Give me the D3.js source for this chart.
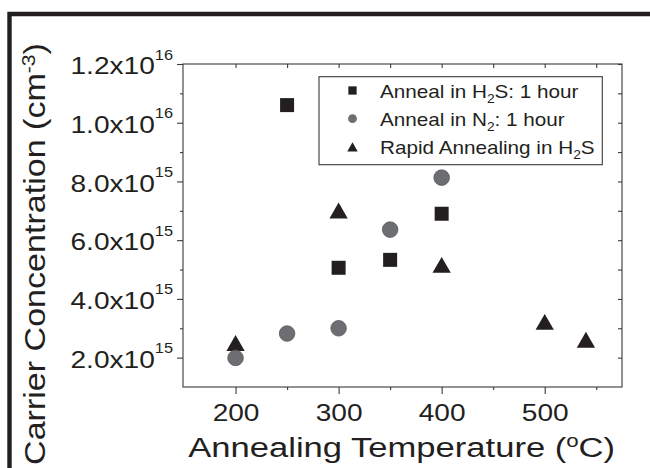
<!DOCTYPE html>
<html>
<head>
<meta charset="utf-8">
<script src="https://cdn.jsdelivr.net/npm/d3@7"></script>
<style>
  body { margin: 0; background: #fff; }
  text { font-family: Arial, "Liberation Sans", sans-serif; fill: #231f20; }
</style>
</head>
<body>
<svg id="chart" width="650" height="468"></svg>
<script>
// data (temperature in C, carrier concentration in cm^-3)
const h2sTemp = [250, 300, 350, 400];
const h2sConc = [1.06e16, 5.06e15, 5.33e15, 6.90e15];

const n2Temp = [200, 250, 300, 350, 400];
const n2Conc = [1.99e15, 2.82e15, 3.0e15, 6.36e15, 8.13e15];

const rapidTemp = [200, 300, 400, 500, 540];
const rapidConc = [2.5e15, 7.01e15, 5.16e15, 3.22e15, 2.61e15];

const xMajor = [200, 300, 400, 500];
const xMinor = [250, 350, 450, 550];
const yMajor = [2e15, 4e15, 6e15, 8e15, 1e16, 1.2e16];
const yMinor = [3e15, 5e15, 7e15, 9e15, 1.1e16];

const legendLabels = [
  ["Anneal in H", "2", "S: 1 hour"],
  ["Anneal in N", "2", ": 1 hour"],
  ["Rapid Annealing in H", "2", "S"]
];

var svg = d3.select("#chart");
var ink = "#231f20", axisCol = "#3a3a3a";

// plot box edges (window.top is reserved, so keep own names)
var pLeft = 183, pRight = 622, pTop = 64, pBottom = 387;

var x = d3.scaleLinear().domain([149, 575]).range([pLeft, pRight]);
var y = d3.scaleLinear().domain([1e15, 1.2e16]).range([pBottom, pTop]);

// frame around the figure (only top and left edges are visible)
svg.append("path")
  .attr("d", "M9.5,468 V14 H650")
  .attr("fill", "none")
  .attr("stroke", ink)
  .attr("stroke-width", 4.4);

// plot box
svg.append("rect")
  .attr("x", pLeft).attr("y", pTop)
  .attr("width", pRight - pLeft).attr("height", pBottom - pTop)
  .attr("fill", "none").attr("stroke", axisCol).attr("stroke-width", 1.1);

function styleAxis(g) {
  g.attr("color", axisCol).attr("font-family", null).attr("font-size", null);
  g.select(".domain").remove();
  g.selectAll(".tick line").attr("stroke-width", 1.1);
}

// bottom axis
var xAxisG = svg.append("g")
  .attr("transform", `translate(0,${pBottom})`)
  .call(d3.axisBottom(x).tickValues(xMajor).tickSize(7).tickFormat(d3.format("d")))
  .call(styleAxis);
xAxisG.selectAll("text")
  .attr("y", null).attr("dy", null)
  .attr("font-size", 24)
  .style("fill", ink)
  .attr("transform", "translate(0,33.7) scale(1.17,1)");

svg.append("g")
  .attr("transform", `translate(0,${pBottom})`)
  .call(d3.axisBottom(x).tickValues(xMinor).tickSize(3).tickFormat(""))
  .call(styleAxis);

// top axis, inward ticks
svg.append("g")
  .attr("transform", `translate(0,${pTop})`)
  .call(d3.axisTop(x).tickValues(xMajor.concat(xMinor)).tickSize(-4).tickFormat(""))
  .call(styleAxis);

// right axis, inward ticks
svg.append("g")
  .attr("transform", `translate(${pRight},0)`)
  .call(d3.axisRight(y).tickValues(yMajor.concat(yMinor)).tickSize(-4).tickFormat(""))
  .call(styleAxis);

// left axis
var yAxisG = svg.append("g")
  .attr("transform", `translate(${pLeft},0)`)
  .call(d3.axisLeft(y).tickValues(yMajor).tickSize(6).tickFormat(""))
  .call(styleAxis);

svg.append("g")
  .attr("transform", `translate(${pLeft},0)`)
  .call(d3.axisLeft(y).tickValues(yMinor).tickSize(3).tickFormat(""))
  .call(styleAxis);

// y tick labels like 1.2x10^16
yAxisG.selectAll(".tick").each(function (d) {
  var exp = Math.floor(Math.log10(d) + 1e-9);
  var mant = (d / Math.pow(10, exp)).toFixed(1);
  var t = d3.select(this).select("text");
  t.text(null)
    .attr("x", null).attr("dy", null)
    .attr("text-anchor", "end")
    .attr("font-size", 24)
    .style("fill", ink)
    .attr("transform", "translate(-10,9.7) scale(1.17,1)");
  t.append("tspan").text(mant + "x10");
  t.append("tspan").attr("font-size", 14).attr("dy", -14.7).text(exp);
});

// axis titles
var xt = svg.append("text").attr("font-size", 28).attr("text-anchor", "middle");
xt.append("tspan").text("Annealing Temperature (");
xt.append("tspan").attr("font-size", 18).attr("dy", -10).text("o");
xt.append("tspan").attr("dy", 10).text("C)");
var xw = xt.node().getBBox().width;
xt.attr("transform", `translate(401.7,457) scale(${427 / xw},1)`);

var yt = svg.append("text").attr("font-size", 29).attr("text-anchor", "middle");
yt.append("tspan").text("Carrier Concentration (cm");
yt.append("tspan").attr("font-size", 18).attr("dy", -10).text("-3");
yt.append("tspan").attr("dy", 10).text(")");
var yw = yt.node().getBBox().width;
yt.attr("transform", `translate(45,254) rotate(-90) scale(${422 / yw},1)`);

// markers
var triSide = 18.3, triH = triSide * Math.sqrt(3) / 2;
var triangle = d3.symbol().type(d3.symbolTriangle).size(triSide * triSide * Math.sqrt(3) / 4);
var square = d3.symbol().type(d3.symbolSquare).size(14 * 14);
var circle = d3.symbol().type(d3.symbolCircle).size(Math.PI * 7.8 * 7.8);

var marks = svg.append("g");

marks.selectAll(".tri")
  .data(d3.zip(rapidTemp, rapidConc))
  .enter().append("path")
  .attr("class", "tri")
  .attr("d", triangle)
  // shift so the bounding box (not the centroid) sits on the value
  .attr("transform", d => `translate(${x(d[0])},${y(d[1]) + triH / 6})`)
  .attr("fill", ink);

marks.selectAll(".sq")
  .data(d3.zip(h2sTemp, h2sConc))
  .enter().append("path")
  .attr("class", "sq")
  .attr("d", square)
  .attr("transform", d => `translate(${x(d[0])},${y(d[1])})`)
  .attr("fill", ink);

marks.selectAll(".ci")
  .data(d3.zip(n2Temp, n2Conc))
  .enter().append("path")
  .attr("class", "ci")
  .attr("d", circle)
  .attr("transform", d => `translate(${x(d[0])},${y(d[1])})`)
  .attr("fill", "#6d6e71")
  .attr("stroke", "#5a5a5c")
  .attr("stroke-width", 0.8);

// legend
var leg = svg.append("g");
leg.append("rect")
  .attr("x", 319).attr("y", 76.7)
  .attr("width", 283.3).attr("height", 88)
  .attr("fill", "#fff").attr("stroke", axisCol).attr("stroke-width", 1.1);

var legSymbols = [
  { sym: d3.symbol().type(d3.symbolSquare).size(8.3 * 8.3), fill: ink, dy: 0 },
  { sym: d3.symbol().type(d3.symbolCircle).size(Math.PI * 4.4 * 4.4), fill: "#6d6e71", dy: 0 },
  { sym: d3.symbol().type(d3.symbolTriangle).size(10.5 * 10.5 * Math.sqrt(3) / 4), fill: ink, dy: 10.5 * Math.sqrt(3) / 12 }
];

legendLabels.forEach(function (lab, i) {
  var cy = 90.5 + i * 28.2;
  leg.append("path")
    .attr("d", legSymbols[i].sym)
    .attr("transform", `translate(352.5,${cy + legSymbols[i].dy})`)
    .attr("fill", legSymbols[i].fill);
  var t = leg.append("text")
    .attr("font-size", 18)
    .attr("transform", `translate(380,${cy + 7.5}) scale(1.15,1)`);
  t.append("tspan").text(lab[0]);
  t.append("tspan").attr("font-size", 12).attr("dy", 5).text(lab[1]);
  t.append("tspan").attr("dy", -5).text(lab[2]);
});
</script>
</body>
</html>
